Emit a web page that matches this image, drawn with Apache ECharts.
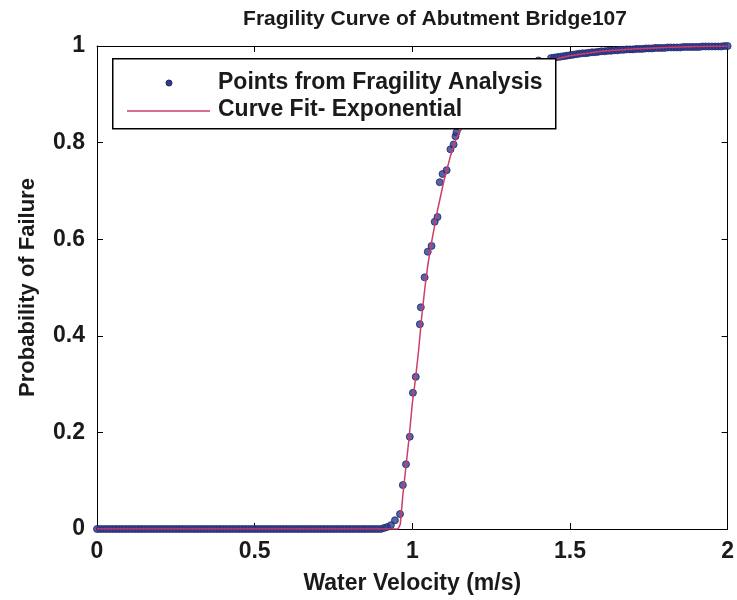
<!DOCTYPE html>
<html>
<head>
<meta charset="utf-8">
<script src="https://cdn.jsdelivr.net/npm/echarts@6/dist/echarts.min.js"></script>
<style>
html,body{margin:0;padding:0;background:#fff;}
#chart{width:737px;height:600px;}
</style>
</head>
<body>
<div id="chart"></div>
<script>
// ---- data ----
var titleText = "Fragility Curve of Abutment Bridge107";
var xName = "Water Velocity (m/s)";
var yName = "Probability of Failure";
var seriesPointsName = "Points from Fragility Analysis";
var seriesCurveName = "Curve Fit- Exponential";

// fragility points, flat region (probability 0)
var lowX = [
  0.00,0.01,0.02,0.03,0.04,0.05,0.06,0.07,0.08,0.09,0.10,0.11,0.12,0.13,0.14,0.15,
  0.16,0.17,0.18,0.19,0.20,0.21,0.22,0.23,0.24,0.25,0.26,0.27,0.28,0.29,0.30,0.31,
  0.32,0.33,0.34,0.35,0.36,0.37,0.38,0.39,0.40,0.41,0.42,0.43,0.44,0.45,0.46,0.47,
  0.48,0.49,0.50,0.51,0.52,0.53,0.54,0.55,0.56,0.57,0.58,0.59,0.60,0.61,0.62,0.63,
  0.64,0.65,0.66,0.67,0.68,0.69,0.70,0.71,0.72,0.73,0.74,0.75,0.76,0.77,0.78,0.79,
  0.80,0.81,0.82,0.83,0.84,0.85,0.86,0.87,0.88,0.89,0.90,0.91,0.92
];
var lowY = [
  0,0,0,0,0,0,0,0,0,0,0,0,0,0,0,0,
  0,0,0,0,0,0,0,0,0,0,0,0,0,0,0,0,
  0,0,0,0,0,0,0,0,0,0,0,0,0,0,0,0,
  0,0,0,0,0,0,0,0,0,0,0,0,0,0,0,0,
  0,0,0,0,0,0,0,0,0,0,0,0,0,0,0,0,
  0,0,0,0,0,0,0,0,0,0,0,0.002,0.004
];
// fragility points, rising region
var riseX = [0.932,0.945,0.961,0.970,0.980,0.992,1.002,1.011,1.024,1.027,1.039,1.049,1.061,
             1.071,1.080,1.087,1.096,1.109,1.121,1.131,1.137,1.140,1.16,1.20,1.25,1.30,1.35,1.40];
var riseY = [0.008,0.018,0.031,0.091,0.134,0.191,0.282,0.315,0.424,0.459,0.521,0.574,0.586,
             0.636,0.646,0.718,0.735,0.743,0.786,0.796,0.813,0.821,0.84,0.88,0.92,0.94,0.96,0.97];
// fragility points, saturated region
var topX = [
  1.44,1.45,1.46,1.47,1.48,1.49,1.50,1.51,1.52,1.53,1.54,1.55,1.56,1.57,1.58,1.59,
  1.60,1.61,1.62,1.63,1.64,1.65,1.66,1.67,1.68,1.69,1.70,1.71,1.72,1.73,1.74,1.75,
  1.76,1.77,1.78,1.79,1.80,1.81,1.82,1.83,1.84,1.85,1.86,1.87,1.88,1.89,1.90,1.91,
  1.92,1.93,1.94,1.95,1.96,1.97,1.98,1.99,2.00,1.77,1.81,1.84
];
var topY = [
  0.975,0.976,0.977,0.978,0.979,0.980,0.981,0.982,0.983,0.984,0.985,0.985,0.986,0.987,0.987,0.988,
  0.989,0.989,0.990,0.990,0.991,0.991,0.992,0.992,0.993,0.993,0.993,0.994,0.994,0.994,0.995,0.995,
  0.995,0.996,0.996,0.996,0.996,0.997,0.997,0.997,0.997,0.997,0.998,0.998,0.998,0.998,0.998,0.998,
  0.999,0.999,0.999,0.999,0.999,0.999,0.999,1.000,1.000,1.003,1.003,1.003
];
// exponential curve fit
var curveX = [0,0.955,0.962,0.97,0.98,0.99,1.00,1.01,1.02,1.03,1.04,1.05,1.06,1.08,1.10,1.12,1.14,1.20,1.30,1.40,1.50,1.60,1.70,1.80,1.90,2.00];
var curveY = [0,0,0.01,0.07,0.13,0.19,0.26,0.31,0.37,0.44,0.50,0.55,0.59,0.66,0.72,0.77,0.81,0.88,0.935,0.965,0.98,0.989,0.994,0.997,0.999,1.0];

var xTicks = {min:0, max:2, interval:0.5};
var yTicks = {min:0, max:1, interval:0.2};

// ---- chart ----
var allX = lowX.concat(riseX, topX);
var allY = lowY.concat(riseY, topY);
var pts = allX.map(function(x,i){return [x, allY[i]];});
var crv = curveX.map(function(x,i){return [x, curveY[i]];});

var FONT = "'Liberation Sans', Arial, sans-serif";
var TXT = '#1a1a1a';
var DOT = '#2f3b8f', DOT_EDGE = '#1e2768', CURVE = '#cc3d6b';
var chart = echarts.init(document.getElementById('chart'), null, {renderer:'canvas'});

var axisCommon = {
  axisLine:{show:true, onZero:false, lineStyle:{color:'#000', width:1}},
  axisTick:{show:true, inside:true, length:6, lineStyle:{color:'#000'}},
  splitLine:{show:false}
};

chart.setOption({
  backgroundColor:'#fff',
  animation:false,
  title:{
    text:titleText, left:430, top:4, textAlign:'center',
    textStyle:{fontFamily:FONT, fontWeight:'bold', fontSize:21, color:TXT}
  },
  grid:{left:97, right:8, top:46, bottom:68, containLabel:false},
  xAxis:[
    Object.assign({type:'value', position:'bottom', min:xTicks.min, max:xTicks.max, interval:xTicks.interval,
      name:xName, nameLocation:'middle', nameGap:43,
      nameTextStyle:{fontFamily:FONT, fontWeight:'bold', fontSize:23, color:TXT},
      axisLabel:{fontFamily:FONT, fontWeight:'bold', fontSize:23, color:TXT, margin:11}
    }, axisCommon),
    Object.assign({type:'value', position:'top', min:xTicks.min, max:xTicks.max, interval:xTicks.interval,
      axisLabel:{show:false}}, axisCommon)
  ],
  yAxis:[
    Object.assign({type:'value', position:'left', min:yTicks.min, max:yTicks.max, interval:yTicks.interval,
      name:yName, nameLocation:'middle', nameGap:58, nameRotate:90,
      nameTextStyle:{fontFamily:FONT, fontWeight:'bold', fontSize:22, color:TXT},
      axisLabel:{fontFamily:FONT, fontWeight:'bold', fontSize:23, color:TXT, margin:12}
    }, axisCommon),
    Object.assign({type:'value', position:'right', min:yTicks.min, max:yTicks.max, interval:yTicks.interval,
      axisLabel:{show:false}}, axisCommon)
  ],
  graphic:[
    {type:'group', z:50, children:[
      {type:'rect', left:112, top:58, z:50,
       shape:{x:0, y:0, width:443, height:70},
       style:{fill:'#fff', stroke:'#000', lineWidth:1.5}},
      {type:'circle', z:51, shape:{cx:169, cy:83, r:3},
       style:{fill:DOT, stroke:DOT_EDGE, lineWidth:1}},
      {type:'text', z:51, x:218, y:83,
       style:{text:seriesPointsName, fill:TXT, font:"bold 23px 'Liberation Sans', Arial, sans-serif", textVerticalAlign:'middle', verticalAlign:'middle'}},
      {type:'line', z:51, shape:{x1:127, y1:111, x2:210, y2:111},
       style:{stroke:CURVE, lineWidth:1.5}},
      {type:'text', z:51, x:218, y:110,
       style:{text:seriesCurveName, fill:TXT, font:"bold 23px 'Liberation Sans', Arial, sans-serif", textVerticalAlign:'middle', verticalAlign:'middle'}}
    ]}
  ],
  series:[
    {
      name:seriesPointsName, type:'scatter', data:pts, symbol:'circle', symbolSize:7, z:2,
      itemStyle:{color:DOT, borderColor:DOT_EDGE, borderWidth:1}
    },
    {
      name:seriesCurveName, type:'line', data:crv, showSymbol:false, symbol:'none', z:3,
      lineStyle:{color:CURVE, width:1.5}
    }
  ]
});
</script>
</body>
</html>
